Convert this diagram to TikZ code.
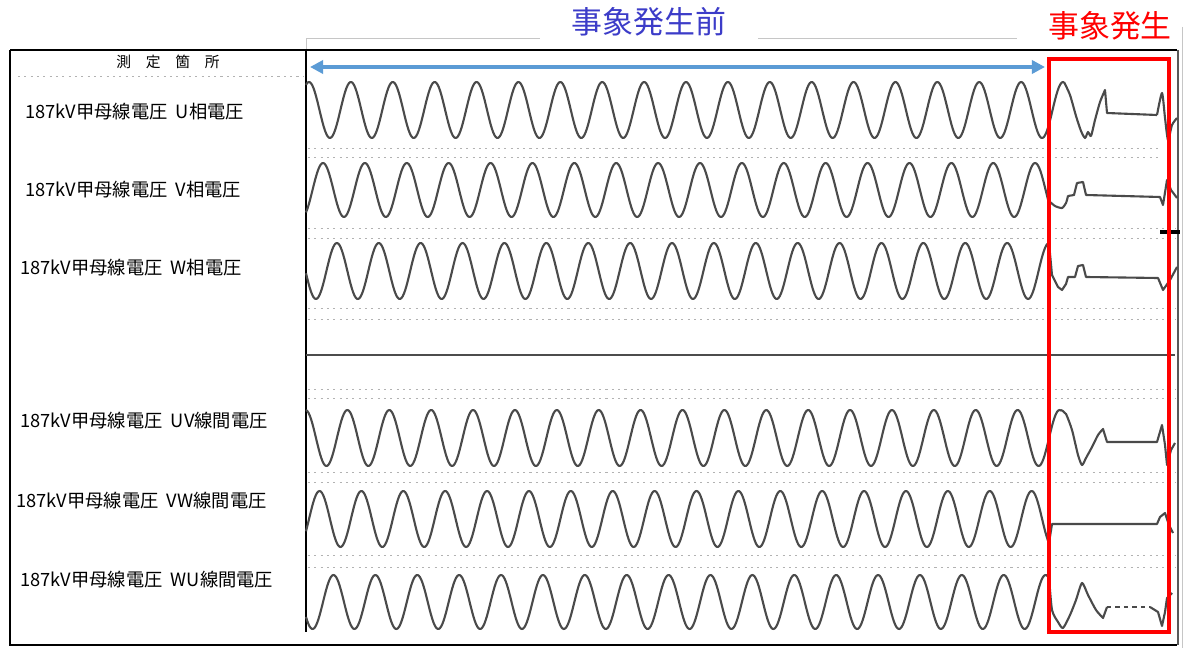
\documentclass[tikz,border=0pt]{standalone}
\usepackage{fontspec}
\newfontfamily\jpfont[WordSpace=2]{Noto Sans CJK JP}
\usetikzlibrary{arrows.meta}

\definecolor{spanblue}{HTML}{5B9BD5}
\definecolor{titleblue}{HTML}{3C3CC8}
\definecolor{wavegray}{HTML}{4A4A4A}

\tikzset{
  wave/.style={wavegray, line width=1.5pt, line join=round},
  noise/.style={gray!60, line width=0.7pt, dash pattern=on 1.5pt off 3pt},
  lbl/.style={anchor=west, inner sep=0pt, font=\jpfont\fontsize{13pt}{15pt}\selectfont},
  ttl/.style={inner sep=0pt, font=\jpfont\fontsize{22pt}{24pt}\selectfont},
}

\begin{document}
\begin{tikzpicture}[x=0.025cm, y=-0.025cm]
\useasboundingbox (0,0) rectangle (1189,648);

% frame of the record sheet
\draw[gray!45, line width=0.7pt] (306,50) -- (306,38) -- (540,38);
\draw[gray!45, line width=0.7pt] (758,38) -- (1017,38);
\draw[gray!45, line width=0.7pt] (1182,27) -- (1182,648);
\draw[black, line width=0.8pt] (10,50) -- (1177,50);
\draw[black, line width=0.8pt] (10,50) -- (10,645) -- (1177,645);
\draw[gray!70!black, line width=2pt] (1178,50) -- (1178,645);
\draw[black, line width=1.1pt] (306,50) -- (306,632);

% scan traces between channels
\draw[noise] (18,76) -- (304,76);
\draw[noise] (308,148) -- (1160,148);
\draw[noise] (308,157) -- (1160,157);
\draw[noise] (308,228) -- (1175,228);
\draw[noise] (308,238) -- (1175,238);
\draw[noise] (308,308) -- (1175,308);
\draw[noise] (308,319) -- (1175,319);
\draw[gray!60!black, line width=1pt] (306,355) -- (1175,355);
\draw[noise] (308,389) -- (1175,389);
\draw[noise] (308,398) -- (1175,398);
\draw[noise] (308,472) -- (1175,472);
\draw[noise] (308,482) -- (1175,482);
\draw[noise] (308,555) -- (1175,555);
\draw[noise] (308,567) -- (1175,567);
\draw[black, line width=2.5pt] (1160,232) -- (1180,232);

% headings
\node[font=\jpfont\fontsize{10.5pt}{12pt}\selectfont, inner sep=0pt] (hdr) at (168,62) {測　定　箇　所};
\node[ttl, text=titleblue] (pre) at (649,22) {事象発生前};
\node[ttl, text=red] (evt) at (1110,26) {事象発生};

% channel names
\node[lbl] (lu) at (25,112) {187kV甲母線電圧 U相電圧};
\node[lbl] (lv) at (25,190) {187kV甲母線電圧 V相電圧};
\node[lbl] (lw) at (20,268) {187kV甲母線電圧 W相電圧};
\node[lbl] (luv) at (20,421) {187kV甲母線電圧 UV線間電圧};
\node[lbl] (lvw) at (16,501) {187kV甲母線電圧 VW線間電圧};
\node[lbl] (lwu) at (20,580) {187kV甲母線電圧 WU線間電圧};

% U
\draw[wave] plot[domain=306:1064, samples=600] (\x, {110-28*cos((\x-309)/41.89*360)});
\draw[wave] plot[smooth, tension=0.4] coordinates {(1064,82) (1070,95) (1076,116) (1081,131) (1085,138) (1088,132) (1091,136) (1095,120) (1100,102) (1105,90)}
  -- (1107,113) -- (1157,115);
\draw[wave] plot[smooth, tension=0.4] coordinates {(1157,115) (1162,93) (1165,118) (1168,140) (1172,125) (1177,118)};

% V
\draw[wave] plot[domain=306:1049, samples=600] (\x, {190-27*cos((\x-323)/41.89*360)});
\draw[wave] plot[smooth, tension=0.4] coordinates {(1049,201) (1055,206) (1062,208) (1066,203) (1068,196)}
  -- (1074,195) -- (1077,183) -- (1083,182) -- (1086,195) -- (1160,197) -- (1163,205) -- (1167,180) -- (1171,190) -- (1177,198);

% W
\draw[wave] plot[domain=306:1049, samples=600] (\x, {271-28*cos((\x-295)/41.89*360)});
\draw[wave] (1049,243) -- (1052,275)
  -- (1058,287) -- (1062,290) -- (1066,284) -- (1068,277) -- (1075,277) -- (1078,266) -- (1083,265) -- (1086,277) -- (1158,278) -- (1163,290) -- (1170,280) -- (1177,267);

% UV
\draw[wave] plot[domain=306:1061, samples=600] (\x, {438-28*cos((\x-305.5)/41.89*360)});
\draw[wave] plot[smooth, tension=0.4] coordinates {(1061,410) (1066,414) (1072,430) (1078,455) (1082,465) (1086,458) (1092,447) (1098,435) (1103,429)}
  -- (1107,442) -- (1157,442) -- (1162,425) -- (1165,445) -- (1167,465) -- (1171,450) -- (1175,443);

% VW
\draw[wave] plot[domain=306:1049, samples=600] (\x, {519-28*cos((\x-319.5)/41.89*360)});
\draw[wave] (1049,543) -- (1052,524) -- (1157,524) -- (1160,517) -- (1165,513) -- (1169,525) -- (1173,533);

% WU
\draw[wave] plot[domain=306:1049, samples=600] (\x, {602-27*cos((\x-333.5)/41.89*360)});
\draw[wave] plot[smooth, tension=0.4] coordinates {(1049,577) (1052,610) (1058,622) (1063,628) (1070,615) (1076,600) (1082,583) (1088,595) (1096,610) (1103,618)}
  -- (1107,607);
\draw[wave, dashed] (1107,607) -- (1150,607);
\draw[wave] (1150,607) -- (1158,612) -- (1162,626) -- (1165,612) -- (1167,598) -- (1172,593);

% span before the event and the event window
\coordinate (spanL) at (310,67);
\coordinate (spanR) at (1045,67);
\draw[spanblue, line width=2.8pt, {Triangle[length=0.33cm, width=0.33cm]}-{Triangle[length=0.33cm, width=0.33cm]}] (spanL) -- (spanR);
\draw[red, line width=2.8pt] (1049,59) rectangle (1169,632);

\end{tikzpicture}
\end{document}
